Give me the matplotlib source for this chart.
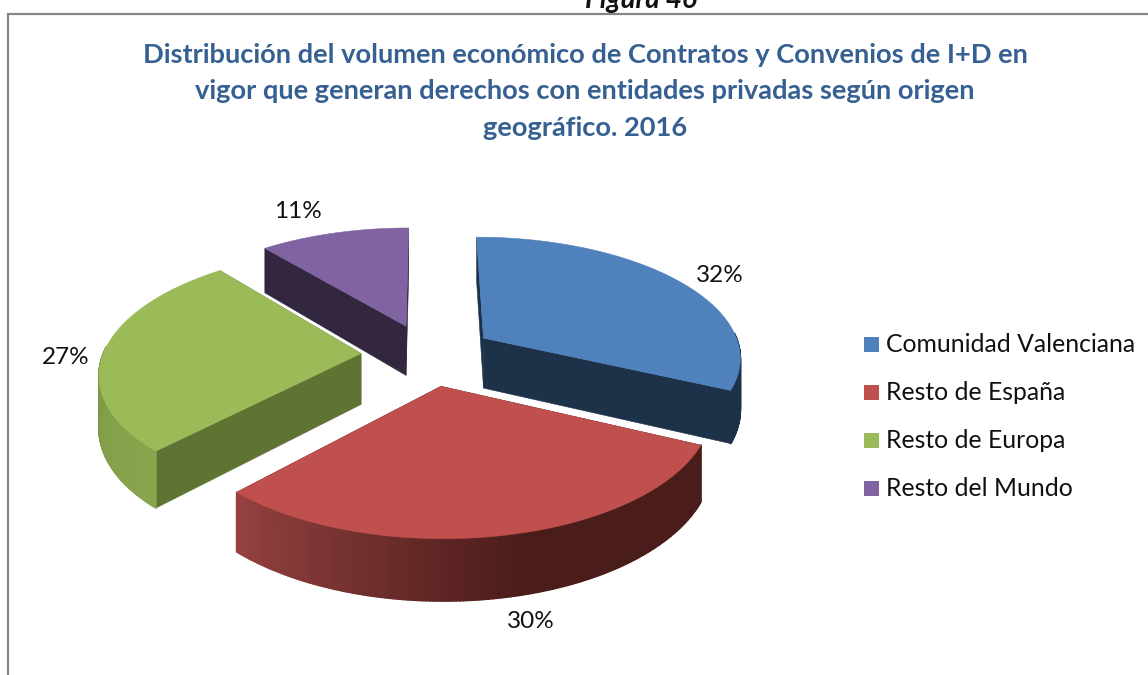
import numpy as np
import matplotlib
matplotlib.use("Agg")
import matplotlib.pyplot as plt
from matplotlib.collections import PolyCollection
from matplotlib.colors import to_rgb
from matplotlib.patches import Rectangle, Polygon

categories = ["Comunidad Valenciana", "Resto de España", "Resto de Europa", "Resto del Mundo"]
values = [32, 30, 27, 11]
pct_labels = ["32%", "30%", "27%", "11%"]
top_colors = ["#4F81BD", "#C0504D", "#9BBB59", "#8064A2"]
cut_colors = ["#1D3149", "#4A1C1A", "#5F7333", "#32273F"]

W, H = 1148, 675
CX, CY = 428, 354.5
RX, RY, P = 258, 120, 0.145
DEPTH = 51
EXPLODE = 0.26

plt.rcParams['font.family'] = ['Lato', 'DejaVu Sans']
fig = plt.figure(figsize=(W / 100, H / 100), dpi=100)
ax = fig.add_axes([0, 0, 1, 1])
ax.set_xlim(0, W)
ax.set_ylim(H, 0)
ax.axis('off')


def project(u, v, z=0.0):
    s = 1.0 / (1.0 + P * v)
    return CX + RX * u * s, CY - RY * v * s + z * DEPTH * s


def mix(c1, c2, t):
    a, b = np.array(to_rgb(c1)), np.array(to_rgb(c2))
    return tuple(a + (b - a) * t)


ax.add_patch(Rectangle((8, 14), W + 20, H + 20, fc='white', ec='#868686', lw=1.6))

total = sum(values)
fracs = np.array(values) / total
starts = np.concatenate([[0], np.cumsum(fracs)[:-1]]) * 360
ends = starts + fracs * 360


def wall_color(i, deg):
    if i == 1:
        return mix("#4A1C1A", "#964240", np.clip((deg - 165) / 58, 0, 1))
    if i == 2:
        return mix("#89A64E", "#7C9845", np.clip((deg - 223) / 50, 0, 1))
    return to_rgb(cut_colors[i])


order = [3, 0, 2, 1]
for i in order:
    a0, a1 = starts[i], ends[i]
    mid = np.radians((a0 + a1) / 2)
    ou, ov = EXPLODE * np.sin(mid), EXPLODE * np.cos(mid)
    th = np.radians(np.linspace(a0, a1, 160))
    u = ou + np.sin(th)
    v = ov + np.cos(th)
    z = 2 + order.index(i)

    # cut faces
    for end_idx in (0, -1):
        ex0, ey0 = project(ou, ov)
        ex1, ey1 = project(u[end_idx], v[end_idx])
        bx0, by0 = project(ou, ov, 1)
        bx1, by1 = project(u[end_idx], v[end_idx], 1)
        ax.add_patch(Polygon([(ex0, ey0), (ex1, ey1), (bx1, by1), (bx0, by0)],
                             fc=cut_colors[i], ec=cut_colors[i], lw=0.4, zorder=z))

    # outer wall, only segments facing the viewer
    x0, y0 = project(u, v)
    x1, y1 = project(u, v, 1)
    quads, cols = [], []
    for k in range(len(th) - 1):
        if np.cos(th[k]) > 0.05:
            continue
        quads.append([(x0[k], y0[k]), (x0[k + 1], y0[k + 1]), (x1[k + 1], y1[k + 1]), (x1[k], y1[k])])
        cols.append(wall_color(i, np.degrees(th[k])))
    ax.add_collection(PolyCollection(quads, facecolors=cols, edgecolors=cols, linewidths=1.2,
                                     zorder=z))

    # top surface
    ax0, ay0 = project(ou, ov)
    pts = [(ax0, ay0)] + list(zip(x0, y0))
    ax.add_patch(Polygon(pts, fc=top_colors[i], ec=top_colors[i], lw=0.4, zorder=z + 0.5))

label_xy = [(720, 275), (531, 622), (66, 357), (298, 211)]
for txt, (lx, ly) in zip(pct_labels, label_xy):
    ax.text(lx, ly, txt, ha='center', va='center', fontsize=17.5, color='#111111', zorder=20)

title_lines = ["Distribución del volumen económico de Contratos y Convenios de I+D en",
               "vigor que generan derechos con entidades privadas según origen",
               "geográfico. 2016"]
for line, ty in zip(title_lines, (55, 91, 128)):
    ax.text(585, ty, line, ha='center', va='center', fontsize=19.6, fontweight='bold', color='#376092', zorder=20)

ax.text(641, 0, "Figura 46", ha='center', va='center', fontsize=20, fontweight='bold',
        fontstyle='italic', color='#111111', zorder=20)

for name, col, ly in zip(categories, top_colors, (344, 392, 440, 488)):
    ax.add_patch(Rectangle((864, ly - 7.5), 15, 15, fc=col, ec='none', zorder=20))
    ax.text(886, ly, name, ha='left', va='center', fontsize=17.8, color='#111111', zorder=20)

fig.savefig("out.png", dpi=100)
